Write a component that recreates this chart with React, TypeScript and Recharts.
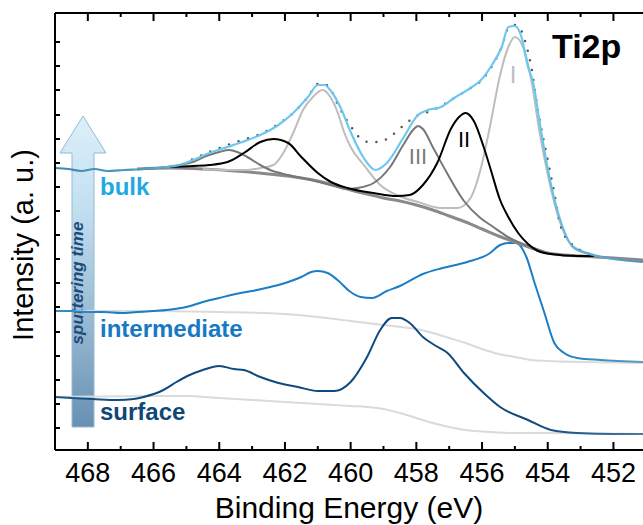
import { Line, LineChart, XAxis, YAxis } from "recharts";

type Pt = [number, number];

// binding energy ticks (eV), even = labelled, odd = minor
const energyTicks = [468, 467, 466, 465, 464, 463, 462, 461, 460, 459, 458, 457, 456, 455, 454, 453, 452];
// intensity ticks (a. u.), unlabelled
const intensityTicks = [22, 46, 70, 94, 118, 143, 167, 191, 215, 239, 263, 287, 311, 335, 360, 384, 408];

// measured bulk spectrum
const bulk: Pt[] = [
  [469, 282], [468.6, 281], [468.2, 279], [467.8, 281], [467.4, 279], [466.9, 280], [466.3, 281],
  [465.9, 282], [465.6, 283], [465.2, 285], [464.8, 290], [464.3, 297], [463.75, 303], [463.3, 308],
  [462.75, 315], [462.2, 325], [461.75, 337], [461.3, 353], [461.0, 365], [460.8, 365], [460.6, 359],
  [460.3, 342], [460.0, 318], [459.6, 292], [459.25, 280], [458.9, 287], [458.4, 312], [457.95, 335],
  [457.65, 340], [457.25, 343], [456.85, 352], [456.35, 362], [456.0, 371], [455.7, 385], [455.4, 403],
  [455.2, 423], [455.0, 424], [454.8, 413], [454.6, 383], [454.45, 368], [454.2, 318], [453.9, 265],
  [453.6, 228], [453.2, 202], [452.6, 195], [452.0, 191], [451.1, 188],
];

// fit envelope (dotted)
const envelope: Pt[] = [
  [465.4, 284], [465.2, 285], [464.8, 291], [464.3, 298], [463.75, 305], [463.3, 310], [462.75, 316],
  [462.2, 326], [461.75, 337], [461.3, 353], [461.0, 366], [460.8, 366], [460.6, 360], [460.4, 346],
  [460.0, 324], [459.75, 313], [459.45, 308], [459.15, 308], [458.85, 312], [458.55, 320], [458.3, 327],
  [457.95, 335], [457.65, 338], [457.35, 342], [456.85, 352], [456.35, 362], [456.0, 370], [455.7, 384],
  [455.4, 403], [455.2, 422], [455.0, 425], [454.85, 422], [454.7, 410], [454.5, 383], [454.3, 340],
  [454.0, 290], [453.8, 257], [453.6, 223], [453.3, 207], [452.8, 197], [452.6, 195],
];

// Shirley background
const background: Pt[] = [
  [466.5, 281], [465.5, 282], [464.5, 281], [463.5, 279], [462.5, 276], [461.5, 272], [460.5, 265],
  [460.0, 260], [459.5, 256], [459.0, 252], [458.5, 249], [458.0, 245], [457.5, 240], [457.0, 234],
  [456.5, 228], [456.0, 221], [455.5, 214], [455.0, 208], [454.5, 202], [454.0, 197], [453.5, 195],
  [453.0, 194], [452.0, 192], [451.1, 190],
];

// fit components
const peakI: Pt[] = [
  [464.5, 281], [463.75, 280], [463.2, 280], [462.75, 282], [462.35, 285], [462.05, 297], [461.75, 317],
  [461.45, 340], [461.15, 353], [460.85, 360], [460.6, 352], [460.4, 338], [460.2, 318], [460.0, 303],
  [459.6, 285], [459.1, 265], [458.6, 255], [457.95, 248], [457.25, 242], [456.75, 242], [456.35, 252],
  [456.05, 280], [455.75, 325], [455.45, 375], [455.2, 403], [455.0, 413], [454.75, 403], [454.5, 370],
  [454.25, 318], [453.95, 268], [453.65, 230], [453.3, 206], [452.8, 197], [452.6, 195],
];

const peakII: Pt[] = [
  [465.5, 283], [464.8, 284], [464.3, 285], [463.75, 288], [463.25, 297], [462.75, 308], [462.35, 311],
  [461.9, 307], [461.5, 293], [461.0, 277], [460.6, 268], [460.1, 262], [459.3, 257], [458.6, 254],
  [458.2, 255], [457.8, 265], [457.35, 288], [456.95, 321], [456.7, 333], [456.5, 337], [456.25, 329],
  [455.95, 303], [455.75, 282], [455.45, 250], [455.2, 233], [454.9, 217], [454.6, 206], [454.3, 199],
  [453.9, 196], [453.1, 194], [452.6, 194],
];

const peakIII: Pt[] = [
  [466.3, 281], [465.6, 283], [465.2, 285], [464.8, 288], [464.4, 294], [464.0, 298], [463.7, 300],
  [463.45, 298], [463.15, 293], [462.75, 285], [462.45, 280], [461.9, 275], [461.2, 270], [460.5, 264],
  [460.1, 261], [459.8, 262], [459.3, 267], [458.8, 283], [458.4, 305], [458.1, 320], [457.95, 324],
  [457.8, 321], [457.5, 303], [457.05, 276], [456.55, 249], [456.05, 232], [455.7, 224], [455.1, 211],
  [454.5, 203], [454.1, 198],
];

const intermediate: Pt[] = [
  [469, 139], [468.5, 139], [468, 138], [467.5, 138], [467, 137], [466.5, 138], [466, 139], [465.6, 140],
  [465.0, 143], [464.5, 148], [464.0, 152], [463.5, 156], [463.0, 159], [462.45, 163], [461.9, 168],
  [461.5, 173], [461.2, 178], [461.0, 179], [460.7, 177], [460.4, 170], [460.0, 158], [459.7, 153],
  [459.35, 152], [458.9, 159], [458.5, 164], [457.8, 176], [457.2, 182], [456.45, 188], [455.8, 196],
  [455.45, 205], [455.2, 207], [454.97, 207], [454.65, 193], [454.4, 167], [454.1, 137], [453.8, 107],
  [453.5, 97], [453.1, 92], [452.4, 90], [451.1, 88],
];

const intermediateBg: Pt[] = [
  [469, 139], [466, 139], [464, 138], [462, 136], [461, 133], [460, 129], [459, 125], [458, 121],
  [457.5, 117], [457, 112], [456.5, 107], [456, 101], [455.5, 96], [455, 93], [454.5, 90], [454, 89],
  [453, 88], [451.1, 87],
];

const surface: Pt[] = [
  [469, 53], [468.5, 52], [467.85, 51], [467.1, 50], [466.6, 51], [466.3, 53], [465.7, 60], [465.3, 68],
  [464.97, 74], [464.5, 80], [464.0, 84], [463.55, 81], [463.25, 80], [462.75, 73], [462.2, 67],
  [461.6, 63], [461.0, 59], [460.5, 59], [460.0, 68], [459.5, 93], [459.1, 120], [458.75, 132],
  [458.5, 132], [458.2, 127], [457.8, 113], [457.4, 104], [457.05, 97], [456.55, 77], [455.95, 57],
  [455.45, 43], [454.6, 30], [453.9, 20], [453.1, 17], [452, 16], [451.1, 16],
];

const surfaceBg: Pt[] = [
  [469, 53], [466, 54], [465, 54], [464, 52], [463, 50], [462, 48], [461, 46], [460, 44], [459.5, 43],
  [459, 41], [458.5, 37], [458, 32], [457.5, 27], [457, 23], [456.5, 20], [456, 18.5], [455, 17],
  [454, 17], [451.1, 16],
];

const toRows = (pts: Pt[]) => pts.map(([x, y]) => ({ x, y }));

const FONT = "'Liberation Sans', Arial, Helvetica, sans-serif";

const BottomTick = (props: any) => {
  const { x, y, payload } = props;
  const major = payload.value % 2 === 0;
  return (
    <g>
      <line x1={x} y1={y} x2={x} y2={y - (major ? 8 : 4)} stroke="#000" strokeWidth={2} />
      {major && (
        <text x={x} y={y + 32} textAnchor="middle" fontSize={27} fontFamily={FONT} fill="#000">
          {payload.value}
        </text>
      )}
    </g>
  );
};

const TopTick = (props: any) => {
  const { x, y, payload } = props;
  const major = payload.value % 2 === 0;
  return <line x1={x} y1={y} x2={x} y2={y + (major ? 8 : 4)} stroke="#000" strokeWidth={2} />;
};

const LeftTick = (props: any) => {
  const { x, y } = props;
  return <line x1={x} y1={y} x2={x + 5} y2={y} stroke="#000" strokeWidth={2} />;
};

const lineProps = {
  type: "monotone" as const,
  dataKey: "y",
  dot: false,
  activeDot: false,
  isAnimationActive: false,
};

export default function App() {
  return (
    <div style={{ position: "absolute", left: 0, top: 0, width: 643, height: 525, background: "#fff" }}>
      <svg width={643} height={525} style={{ position: "absolute", left: 0, top: 0 }}>
        <defs>
          <linearGradient id="arrowGrad" x1="0" y1="0" x2="0" y2="1">
            <stop offset="0" stopColor="#dcf0fa" />
            <stop offset="0.3" stopColor="#c2dff0" />
            <stop offset="0.65" stopColor="#99bad3" />
            <stop offset="1" stopColor="#6890b3" />
          </linearGradient>
        </defs>
        <polygon
          points="72,427 72,153 60,153 83,116 106,153 94,153 94,427"
          fill="url(#arrowGrad)"
          stroke="#94bad4"
          strokeWidth={1}
        />
        <text
          x={83}
          y={283}
          transform="rotate(-90 83 283)"
          textAnchor="middle"
          fontSize={17}
          fontStyle="italic"
          fontWeight="bold"
          fontFamily={FONT}
          fill="#1d4c79"
        >
          sputtering time
        </text>
        <text x={100} y={195} fontSize={24} fontWeight="bold" fontFamily={FONT} fill="#1fa9e1">bulk</text>
        <text x={100} y={337} fontSize={24} fontWeight="bold" fontFamily={FONT} fill="#1679c3">intermediate</text>
        <text x={100} y={420} fontSize={24} fontWeight="bold" fontFamily={FONT} fill="#0f4777">surface</text>
        <text x={552} y={58} fontSize={34} fontWeight="bold" fontFamily={FONT} fill="#000">Ti2p</text>
        <text x={513} y={83} textAnchor="middle" fontSize={24} fontFamily={FONT} fill="#bdbdbd">I</text>
        <text x={464} y={147} textAnchor="middle" fontSize={22} fontFamily={FONT} fill="#000">II</text>
        <text x={418} y={164} textAnchor="middle" fontSize={22} fontFamily={FONT} fill="#7a7a7a">III</text>
        <text
          x={33}
          y={245}
          transform="rotate(-90 33 245)"
          textAnchor="middle"
          fontSize={29}
          fontFamily={FONT}
          fill="#000"
        >
          Intensity (a. u.)
        </text>
        <text x={349} y={518} textAnchor="middle" fontSize={30} fontFamily={FONT} fill="#000">
          Binding Energy (eV)
        </text>
      </svg>
      <div style={{ position: "absolute", left: 0, top: 0 }}>
        <LineChart width={643} height={525} margin={{ top: 0, right: 0, bottom: 0, left: 0 }}>
          <defs>
            <linearGradient id="bulkGrad" x1="0" y1="0" x2="1" y2="0">
              <stop offset="0" stopColor="#3f87ad" />
              <stop offset="0.16" stopColor="#4f9fc7" />
              <stop offset="0.24" stopColor="#6cc8ef" />
              <stop offset="0.82" stopColor="#6cc8ef" />
              <stop offset="1" stopColor="#4e93b5" />
            </linearGradient>
            <linearGradient id="interGrad" x1="0" y1="0" x2="1" y2="0">
              <stop offset="0" stopColor="#3a8bc3" />
              <stop offset="0.12" stopColor="#1a7dc6" />
              <stop offset="0.85" stopColor="#1a7dc6" />
              <stop offset="1" stopColor="#5e9cc4" />
            </linearGradient>
            <linearGradient id="surfGrad" x1="0" y1="0" x2="1" y2="0">
              <stop offset="0" stopColor="#1d5a8c" />
              <stop offset="0.12" stopColor="#0f4a7e" />
              <stop offset="0.82" stopColor="#0f4a7e" />
              <stop offset="1" stopColor="#4a7ba3" />
            </linearGradient>
          </defs>
          <XAxis
            xAxisId="bottom"
            dataKey="x"
            type="number"
            domain={[451.1, 469]}
            reversed
            allowDataOverflow
            ticks={energyTicks}
            interval={0}
            height={75}
            tickSize={0}
            tickMargin={0}
            tickLine={false}
            tick={<BottomTick />}
            axisLine={{ stroke: "#000", strokeWidth: 2 }}
          />
          <XAxis
            xAxisId="top"
            orientation="top"
            dataKey="x"
            type="number"
            domain={[451.1, 469]}
            reversed
            allowDataOverflow
            ticks={energyTicks}
            interval={0}
            height={13}
            tickSize={0}
            tickMargin={0}
            tickLine={false}
            tick={<TopTick />}
            axisLine={{ stroke: "#000", strokeWidth: 2 }}
          />
          <YAxis
            type="number"
            domain={[0, 437]}
            allowDataOverflow
            ticks={intensityTicks}
            interval={0}
            width={55}
            tickSize={0}
            tickMargin={0}
            tickLine={false}
            tick={<LeftTick />}
            axisLine={{ stroke: "#000", strokeWidth: 2 }}
          />
          <Line {...lineProps} xAxisId="bottom" data={toRows(intermediateBg)} stroke="#dadada" strokeWidth={2} />
          <Line {...lineProps} xAxisId="bottom" data={toRows(surfaceBg)} stroke="#dadada" strokeWidth={2} />
          <Line {...lineProps} xAxisId="bottom" data={toRows(intermediate)} stroke="url(#interGrad)" strokeWidth={2} />
          <Line {...lineProps} xAxisId="bottom" data={toRows(surface)} stroke="url(#surfGrad)" strokeWidth={2} />
          <Line {...lineProps} xAxisId="bottom" data={toRows(background)} stroke="#8a8a8a" strokeWidth={3} />
          <Line {...lineProps} xAxisId="bottom" data={toRows(peakI)} stroke="#bdbdbd" strokeWidth={2} />
          <Line {...lineProps} xAxisId="bottom" data={toRows(peakIII)} stroke="#777777" strokeWidth={2} />
          <Line {...lineProps} xAxisId="bottom" data={toRows(peakII)} stroke="#000000" strokeWidth={2} />
          <Line
            {...lineProps}
            xAxisId="bottom"
            data={toRows(envelope)}
            stroke="#555555"
            strokeWidth={2.5}
            strokeDasharray="0 10"
            strokeLinecap="round"
          />
          <Line {...lineProps} xAxisId="bottom" data={toRows(bulk)} stroke="url(#bulkGrad)" strokeWidth={2.2} />
        </LineChart>
      </div>
    </div>
  );
}
